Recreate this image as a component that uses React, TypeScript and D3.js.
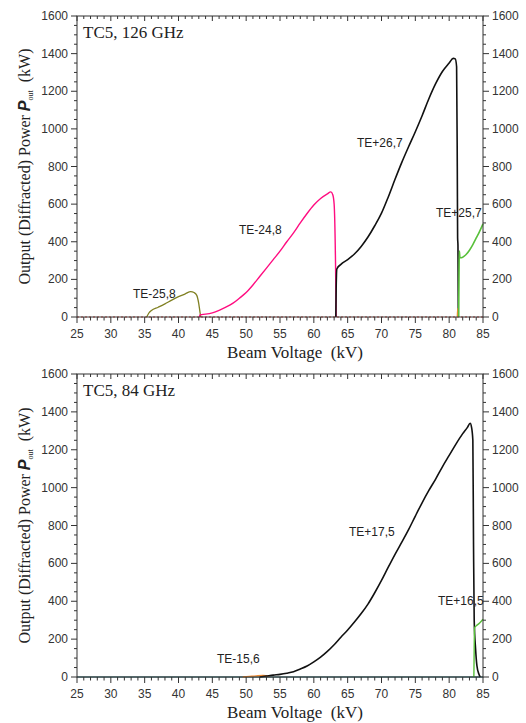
import * as d3 from "d3";

// x ticks / y ticks
const xTicks = [25, 30, 35, 40, 45, 50, 55, 60, 65, 70, 75, 80, 85];
const yTicks = [0, 200, 400, 600, 800, 1000, 1200, 1400, 1600];

// ---- top panel (126 GHz) ----
const te258 = [
  [35.3, 0], [35.6, 20], [36, 35], [37, 52], [38, 70], [39, 90], [40, 108],
  [41, 123], [41.8, 135], [42.3, 130], [42.7, 115], [43.0, 70], [43.2, 20], [43.3, 0],
];
const te248 = [
  [43.1, 0], [43.2, 12], [44, 15], [45, 22], [46, 35], [47, 52], [48, 72], [49, 100],
  [50, 130], [51, 170], [52, 215], [53, 260], [54, 305], [55, 350], [56, 400], [57, 447],
  [58, 500], [59, 550], [60, 595], [61, 630], [62, 655], [62.5, 665], [62.8, 650],
  [63.0, 600], [63.2, 300], [63.3, 0],
];
const te267 = [
  [63.25, 0], [63.3, 150], [63.4, 255], [64, 280], [65, 305], [66, 335], [67, 375],
  [68, 425], [69, 485], [70, 552], [71, 638], [72, 732], [73, 822], [74, 905], [75, 985],
  [76, 1070], [77, 1160], [78, 1240], [79, 1305], [80, 1350], [80.6, 1375], [80.9, 1372],
  [81.1, 1330], [81.2, 800], [81.25, 420], [81.3, 380], [81.35, 0],
];
const te257 = [
  [81.4, 0], [81.45, 200], [81.5, 350], [81.6, 315], [82, 318], [82.5, 332], [83, 355],
  [83.5, 385], [84, 420], [84.5, 455], [85, 495],
];
const spike126 = [[81.2, 0], [81.25, 45], [81.3, 40], [81.35, 0]];
const base126 = [[25, 0], [85, 0]];

// ---- bottom panel (84 GHz) ----
const te156 = [[49.5, 0], [50.5, 3], [51.5, 6], [52.5, 8], [53.5, 5]];
const te175 = [
  [52, 0], [53, 5], [54, 10], [55, 14], [56, 20], [57, 28], [58, 42], [59, 58], [60, 80],
  [61, 105], [62, 135], [63, 170], [64, 210], [65, 248], [66, 290], [67, 335], [68, 385],
  [69, 445], [70, 510], [71, 580], [72, 648], [73, 712], [74, 778], [75, 850], [76, 920],
  [77, 985], [78, 1045], [79, 1110], [80, 1170], [81, 1230], [82, 1285], [82.7, 1318],
  [83.1, 1340], [83.3, 1320], [83.5, 1250], [83.6, 700], [83.7, 300], [83.9, 150],
  [84.1, 60], [84.4, 15], [84.6, 0],
];
const te165 = [[83.65, 0], [83.7, 150], [83.75, 260], [84, 270], [84.5, 285], [85, 305]];
const base84 = [[25, 0], [85, 0]];

const panels = [
  {
    title: "TC5, 126 GHz", top: 16, bottom: 317,
    series: [
      { d: base126, c: "#d9453f", w: 1.2, dash: "2,2" },
      { d: te258, c: "#808022", w: 1.3 },
      { d: te248, c: "#ff0d80", w: 1.4 },
      { d: te267, c: "#111", w: 1.6 },
      { d: spike126, c: "#f08a30", w: 1.3 },
      { d: te257, c: "#58c03a", w: 1.6 },
    ],
    labels: [
      { t: "TE-25,8", x: 133, y: 298 },
      { t: "TE-24,8", x: 239, y: 234 },
      { t: "TE+26,7", x: 357, y: 147 },
      { t: "TE+25,7", x: 436, y: 217 },
    ],
  },
  {
    title: "TC5, 84 GHz", top: 374, bottom: 677,
    series: [
      { d: base84, c: "#4f7f86", w: 1.4 },
      { d: te156, c: "#f08a30", w: 1.3 },
      { d: te175, c: "#111", w: 1.6 },
      { d: te165, c: "#58c03a", w: 1.4 },
    ],
    labels: [
      { t: "TE-15,6", x: 217, y: 663 },
      { t: "TE+17,5", x: 349, y: 536 },
      { t: "TE+16,5", x: 438, y: 605 },
    ],
  },
];

const L = 77, R = 483;
const x = d3.scaleLinear().domain([25, 85]).range([L, R]);
const minorX = d3.range(25, 86, 1);
const minorY = d3.range(0, 1601, 50);
const sans = "Arial, 'Liberation Sans', sans-serif";
const serif = "'Times New Roman', 'Liberation Serif', serif";

function Panel({ p }: { p: any }) {
  const y = d3.scaleLinear().domain([0, 1600]).range([p.bottom, p.top]);
  const line = d3.line<number[]>().x((d) => x(d[0])).y((d) => y(d[1])).curve(d3.curveMonotoneX);
  const ax = "#333";
  const mid = (p.top + p.bottom) / 2;
  return (
    <g>
      {p.series.map((s: any, i: number) => (
        <path key={i} d={line(s.d) || ""} fill="none" stroke={s.c}
          strokeWidth={s.w} strokeDasharray={s.dash} strokeLinejoin="round" />
      ))}
      {/* frame */}
      <rect x={L} y={p.top} width={R - L} height={p.bottom - p.top} fill="none" stroke={ax} strokeWidth={1} />
      {/* x ticks */}
      {minorX.map((v) => {
        const major = v % 5 === 0;
        return (
          <g key={v}>
            <line x1={x(v)} x2={x(v)} y1={p.top} y2={p.top + (major ? 5 : 3)} stroke={ax} />
            <line x1={x(v)} x2={x(v)} y1={p.bottom} y2={p.bottom + (major ? 6 : 3.5)} stroke={ax} />
          </g>
        );
      })}
      {xTicks.map((v) => (
        <text key={v} x={x(v)} y={p.bottom + 21} textAnchor="middle" fontFamily={sans} fontSize={12} fill="#333">{v}</text>
      ))}
      {/* y ticks */}
      {minorY.map((v) => {
        const major = v % 200 === 0;
        return (
          <g key={v}>
            <line x1={L - (major ? 6 : 3)} x2={L} y1={y(v)} y2={y(v)} stroke={ax} />
            <line x1={R} x2={R + (major ? 6 : 3)} y1={y(v)} y2={y(v)} stroke={ax} />
          </g>
        );
      })}
      {yTicks.map((v) => (
        <g key={v}>
          <text x={L - 9} y={y(v) + 4} textAnchor="end" fontFamily={sans} fontSize={12} fill="#333">{v}</text>
          <text x={R + 9} y={y(v) + 4} textAnchor="start" fontFamily={sans} fontSize={12} fill="#333">{v}</text>
        </g>
      ))}
      <text x={83} y={p.top + 22} fontFamily={serif} fontSize={17} fill="#222">{p.title}</text>
      {p.labels.map((l: any) => (
        <text key={l.t} x={l.x} y={l.y} fontFamily={sans} fontSize={12} fill="#222">{l.t}</text>
      ))}
      <text x={295} y={p.bottom + 41} textAnchor="middle" fontFamily={serif} fontSize={17} fill="#222">
        Beam Voltage&#160;&#160;(kV)
      </text>
      <text transform={`translate(30,${mid}) rotate(-90)`} textAnchor="middle" fontFamily={serif} fontSize={16} fill="#222">
        Output (Diffracted) Power{" "}
        <tspan fontFamily={sans} fontWeight="bold" fontStyle="italic">P</tspan>
        <tspan fontSize={8} dy={3}>out</tspan>
        <tspan dy={-3}>&#160;&#160;(kW)</tspan>
      </text>
    </g>
  );
}

export default function App() {
  return (
    <svg width={526} height={723} style={{ position: "absolute", left: 0, top: 0, background: "#fff" }}>
      {panels.map((p) => (
        <Panel key={p.title} p={p} />
      ))}
    </svg>
  );
}
